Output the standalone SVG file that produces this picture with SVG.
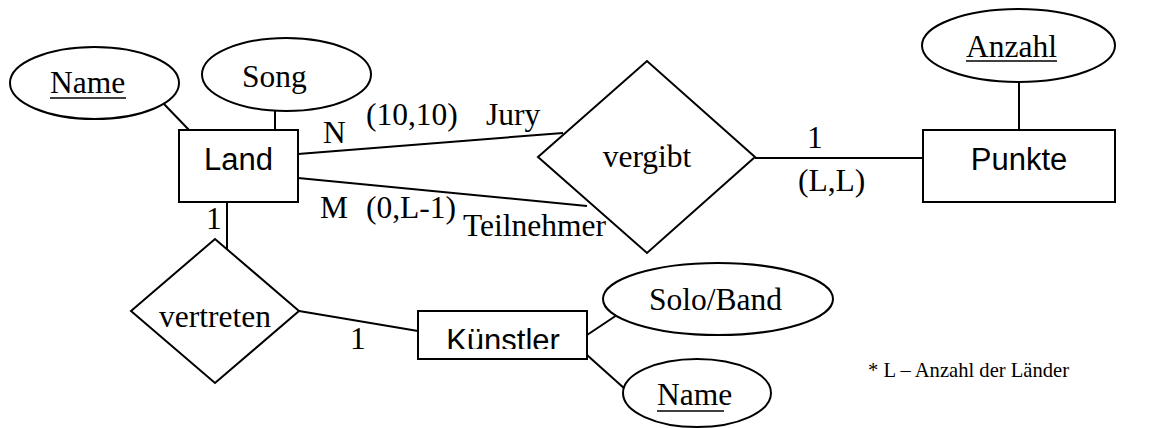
<svg xmlns="http://www.w3.org/2000/svg" width="1165" height="428" viewBox="0 0 1165 428">
<style>
.s{fill:#fff;stroke:#000;stroke-width:2}
.c line{stroke:#000;stroke-width:2}
.ser{font-family:"Liberation Serif","Times New Roman",serif;font-size:31.5px;fill:#000}
.san{font-family:"Liberation Sans",Arial,sans-serif;font-size:31px;fill:#000}
.ul{stroke:#000;stroke-width:1.6}
</style>
<defs><clipPath id="kc"><rect x="418" y="311" width="169" height="38"/></clipPath></defs>
<rect width="1165" height="428" fill="#fff"/>
<g class="c">
<line x1="164" y1="104" x2="189" y2="130"/>
<line x1="275" y1="111" x2="275" y2="130"/>
<line x1="298" y1="154" x2="563" y2="133"/>
<line x1="298" y1="178" x2="587" y2="206"/>
<line x1="755" y1="158" x2="923" y2="158"/>
<line x1="1019" y1="82" x2="1019" y2="130"/>
<line x1="227" y1="202" x2="227" y2="249"/>
<line x1="299" y1="311" x2="418" y2="331"/>
<line x1="587" y1="335" x2="617" y2="315"/>
<line x1="587" y1="355" x2="625" y2="389"/>
</g>
<g id="name1"><ellipse class="s" cx="94.5" cy="83" rx="84.5" ry="36"/><text class="ser" x="50" y="93">Name</text><line class="ul" x1="50" y1="98" x2="126" y2="98"/></g>
<g id="song"><ellipse class="s" cx="286.5" cy="74.5" rx="84.5" ry="36.5"/><text class="ser" x="242" y="87">Song</text></g>
<g id="land"><rect class="s" x="179" y="130" width="119" height="72"/><text class="san" x="238.5" y="170" text-anchor="middle">Land</text></g>
<g id="vergibt"><polygon class="s" points="538,157 647,61 755,157 647,253"/><text class="ser" x="647" y="167" text-anchor="middle">vergibt</text></g>
<g id="punkte"><rect class="s" x="923" y="130" width="192" height="72"/><text class="san" x="1019" y="170" text-anchor="middle">Punkte</text></g>
<g id="anzahl"><ellipse class="s" cx="1018.5" cy="45.5" rx="96.5" ry="36.5"/><text class="ser" x="966" y="57">Anzahl</text><line class="ul" x1="966" y1="61" x2="1057" y2="61"/></g>
<g id="vertreten"><polygon class="s" points="131,311 215,239 299,311 215,383"/><text class="ser" x="215" y="327" text-anchor="middle">vertreten</text></g>
<g id="kuenstler"><rect class="s" x="418" y="311" width="169" height="48"/><text class="san" x="503" y="351" text-anchor="middle" clip-path="url(#kc)">Künstler</text></g>
<g id="soloband"><ellipse class="s" cx="718" cy="299" rx="115" ry="36"/><text class="ser" x="649" y="310">Solo/Band</text></g>
<g id="name2"><ellipse class="s" cx="697" cy="393" rx="74" ry="34"/><text class="ser" x="657" y="405">Name</text><line class="ul" x1="657" y1="411" x2="724" y2="411"/></g>
<g id="labels">
<text class="ser" x="323" y="143">N</text>
<text class="ser" x="366" y="125">(10,10)</text>
<text class="ser" x="486" y="125">Jury</text>
<text class="ser" x="320" y="218">M</text>
<text class="ser" x="366" y="218">(0,L-1)</text>
<text class="ser" x="463" y="236">Teilnehmer</text>
<text class="ser" x="807" y="148">1</text>
<text class="ser" x="798" y="191">(L,L)</text>
<text class="ser" x="206" y="229">1</text>
<text class="ser" x="350" y="349">1</text>
<text class="ser" x="868" y="377" style="font-size:20.6px">* L – Anzahl der Länder</text>
</g>
</svg>
